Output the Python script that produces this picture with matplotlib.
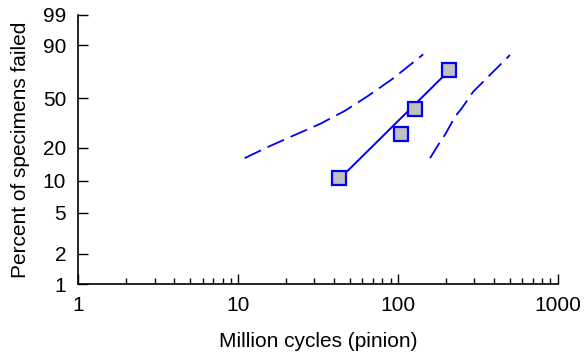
import numpy as np
import matplotlib
matplotlib.use("Agg")
import matplotlib.pyplot as plt

plt.rcParams['font.family'] = ['Liberation Sans', 'DejaVu Sans']

# failure data (million cycles, percent failed)
cycles = [43, 104, 128, 208]
pct_failed = [10.6, 26.2, 42.0, 73.2]

# fitted Weibull line
fit_cycles = [43, 207]
fit_pct = [10.4, 72.0]

# confidence bands
upper_cycles = [11.0, 15.5, 22.7, 32.5, 46.7, 65.3, 93.6, 144]
upper_pct = [16.2, 20.5, 25.9, 31.9, 40.5, 51.8, 66.2, 84.6]
lower_cycles = [159, 183, 197, 228, 251, 296, 326, 415, 503]
lower_pct = [16.2, 22.4, 25.9, 36.5, 42.2, 55.1, 60.6, 74.4, 84.2]

yticks = [1, 2, 5, 10, 20, 50, 90, 99]
xticks = [1, 10, 100, 1000]


def weib(p):
    p = np.clip(np.asarray(p, dtype=float), 1e-6, 99.9999) / 100.0
    return np.log(-np.log(1 - p))


def weib_inv(w):
    return 100.0 * (1 - np.exp(-np.exp(np.asarray(w, dtype=float))))


fig = plt.figure(figsize=(5.85, 3.58), dpi=100)
ax = fig.add_axes([0.1338, 0.2059, 0.8195, 0.7530])
ax.set_xscale('log')
ax.set_yscale('function', functions=(weib, weib_inv))
ax.set_xlim(1, 1000)
ax.set_ylim(1, 99)

blue = '#0000ff'
ax.plot(upper_cycles, upper_pct, color=blue, lw=1.3, dashes=(10, 4))
ax.plot(lower_cycles, lower_pct, color=blue, lw=1.3, dashes=(10, 4))
ax.plot(fit_cycles, fit_pct, color=blue, lw=1.4)
ax.plot(cycles, pct_failed, ls='none', marker='s', ms=10.5,
        mfc='#c0c0c0', mec=blue, mew=1.6)

ax.set_yticks(yticks)
ax.set_yticklabels([str(t) for t in yticks])
ax.yaxis.set_minor_locator(matplotlib.ticker.NullLocator())
ax.set_xticks(xticks)
ax.set_xticklabels([str(t) for t in xticks])

ax.tick_params(axis='both', which='major', direction='in', length=7,
               width=1, labelsize=15, colors='black')
ax.tick_params(axis='x', which='major', pad=8.5)
ax.tick_params(axis='y', which='major', pad=8.8)
ax.tick_params(axis='x', which='minor', direction='in', length=4.5, width=1)

for s in ['top', 'right']:
    ax.spines[s].set_visible(False)
for s in ['left', 'bottom']:
    ax.spines[s].set_linewidth(1.2)

ax.set_xlabel('Million cycles (pinion)', fontsize=15, labelpad=12.5)
ax.set_ylabel('Percent of specimens failed', fontsize=15, labelpad=9)

plt.savefig('out.png', dpi=100)
plt.close()
